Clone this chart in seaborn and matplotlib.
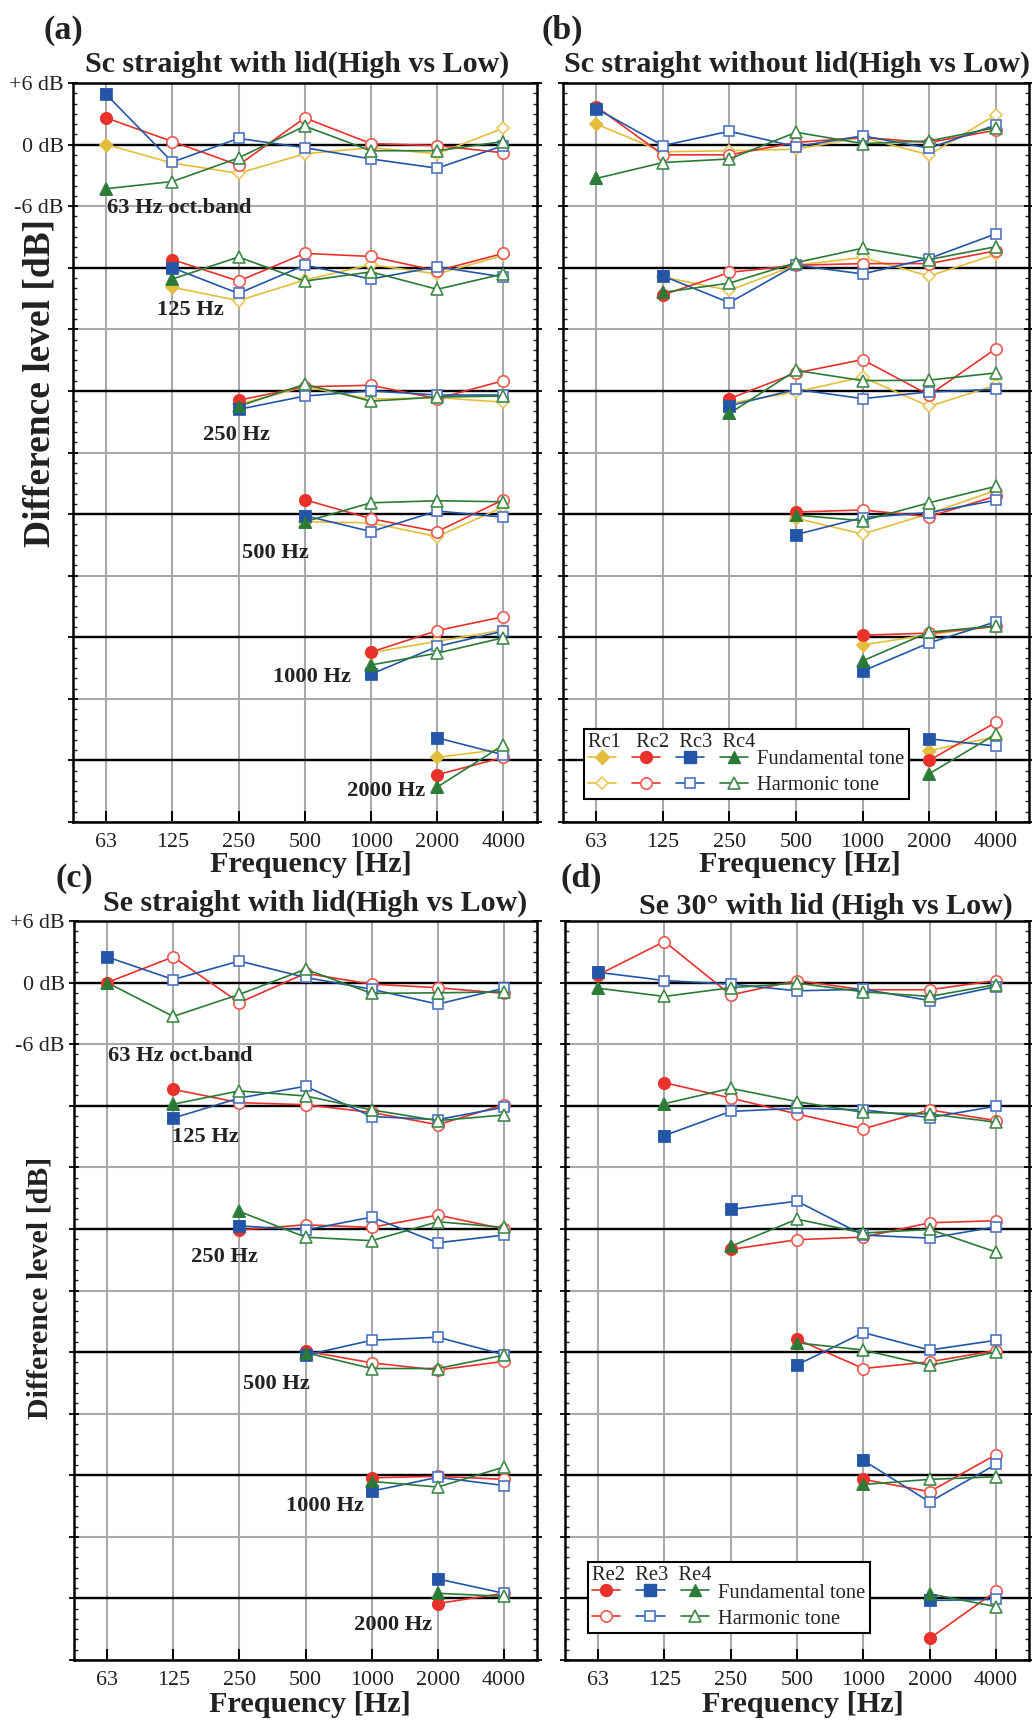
import numpy as np
import pandas as pd
import matplotlib
matplotlib.use("Agg")
import matplotlib.pyplot as plt
import seaborn as sns
from matplotlib.lines import Line2D
from matplotlib.legend_handler import HandlerTuple
from matplotlib.ticker import MultipleLocator

# ---------------------------------------------------------------------------
# Data: level difference (High vs Low) in dB, relative to each band's own
# reference line.  Each series holds one row per excitation octave band,
# running from that band up to 4000 Hz (first value = fundamental tone,
# the following values = harmonic tones).
# ---------------------------------------------------------------------------
freq_labels = ["63", "125", "250", "500", "1000", "2000", "4000"]
band_labels = ["63 Hz oct.band", "125 Hz", "250 Hz", "500 Hz", "1000 Hz", "2000 Hz"]
band_step_db = 12

a_rc1 = [[0.0, -1.8, -2.8, -0.9, -0.3, -0.9, 1.6],
         [-1.9, -3.2, -1.2, 0.3, -0.6, 1.2],
         [-1.3, 0.4, -0.8, -0.65, -1.1],
         [-0.75, -0.85, -2.2, 0.7],
         [-1.5, -0.4, 0.7],
         [0.3, 1.1]]
a_rc2 = [[2.6, 0.3, -2.0, 2.6, 0.1, -0.1, -0.8],
         [0.8, -1.3, 1.4, 1.1, -0.3, 1.4],
         [-0.9, 0.4, 0.55, -0.75, 1.0],
         [1.4, -0.45, -1.7, 1.4],
         [-1.45, 0.65, 2.0],
         [-1.4, 0.3]]
a_rc3 = [[4.9, -1.7, 0.6, -0.3, -1.4, -2.3, -0.1],
         [0.0, -2.5, 0.25, -1.1, 0.1, -0.9],
         [-1.8, -0.5, 0.0, -0.4, -0.4],
         [-0.15, -1.7, 0.3, -0.3],
         [-3.6, -0.9, 0.6],
         [2.2, 0.55]]
a_rc4 = [[-4.3, -3.6, -1.3, 1.8, -0.6, -0.6, 0.3],
         [-1.1, 1.05, -1.3, -0.4, -2.1, -0.6],
         [-1.5, 0.65, -1.0, -0.6, -0.5],
         [-0.75, 1.1, 1.3, 1.2],
         [-2.7, -1.55, -0.05],
         [-2.6, 1.5]]

b_rc1 = [[2.0, -0.7, -0.6, -0.45, 0.7, -1.0, 2.9],
         [-0.9, -2.2, 0.25, 1.0, -0.8, 1.3],
         [-1.2, -0.1, 1.35, -1.5, 0.55],
         [-0.4, -1.95, 0.05, 2.3],
         [-0.75, 0.25, 1.1],
         [0.95, 2.3]]
b_rc2 = [[3.7, -1.0, -1.0, 0.2, 0.7, 0.2, 1.4],
         [-2.65, -0.45, 0.25, 0.4, 0.4, 1.65],
         [-0.75, 1.75, 3.05, -0.4, 4.1],
         [0.2, 0.4, -0.25, 1.75],
         [0.2, 0.4, 1.05],
         [0.0, 3.7]]
b_rc3 = [[3.5, -0.1, 1.3, -0.2, 0.85, -0.35, 1.9],
         [-0.8, -3.4, 0.25, -0.6, 0.9, 3.3],
         [-1.45, 0.15, -0.75, -0.1, 0.15],
         [-2.0, -0.35, 0.15, 1.35],
         [-3.3, -0.55, 1.5],
         [2.1, 1.4]]
b_rc4 = [[-3.3, -1.75, -1.4, 1.2, 0.1, 0.35, 1.65],
         [-2.4, -1.5, 0.5, 1.9, 0.8, 2.05],
         [-2.2, 2.0, 1.0, 1.05, 1.75],
         [-0.1, -0.65, 1.1, 2.7],
         [-2.3, 0.5, 1.1],
         [-1.3, 2.55]]

c_re2 = [[0.0, 2.5, -1.95, 0.9, -0.15, -0.5, -1.05],
         [1.6, 0.3, 0.1, -0.65, -1.85, 0.1],
         [-0.1, 0.4, 0.15, 1.35, 0.0],
         [0.1, -1.05, -1.75, -0.9],
         [-0.25, -0.1, -0.4],
         [-0.5, 0.5]]
c_re3 = [[2.5, 0.3, 2.1, 0.5, -0.65, -2.1, -0.55],
         [-1.2, 0.75, 1.9, -1.05, -1.35, -0.15],
         [0.3, -0.1, 1.15, -1.35, -0.6],
         [-0.3, 1.15, 1.45, -0.25],
         [-1.55, -0.2, -1.0],
         [1.9, 0.5]]
c_re4 = [[0.0, -3.3, -1.15, 1.3, -1.05, -1.0, -0.9],
         [0.15, 1.45, 0.95, -0.4, -1.45, -0.9],
         [1.7, -0.8, -1.15, 0.7, 0.15],
         [-0.05, -1.6, -1.6, -0.3],
         [-0.6, -1.15, 0.8],
         [0.5, 0.2]]

d_re2 = [[0.75, 4.0, -1.2, 0.2, -0.7, -0.7, 0.2],
         [2.25, 0.75, -0.8, -2.25, -0.4, -1.45],
         [-2.0, -1.05, -0.8, 0.6, 0.8],
         [1.25, -1.6, -0.95, 0.15],
         [-0.4, -1.6, 2.0],
         [-3.9, 0.7]]
d_re3 = [[1.0, 0.2, -0.15, -0.8, -0.65, -1.75, -0.4],
         [-2.9, -0.55, -0.25, -0.4, -1.15, -0.05],
         [1.9, 2.7, -0.6, -0.9, 0.2],
         [-1.25, 1.9, 0.2, 1.15],
         [1.45, -2.6, 1.05],
         [-0.2, -0.1]]
d_re4 = [[-0.55, -1.35, -0.5, -0.05, -0.9, -1.35, -0.2],
         [0.2, 1.7, 0.4, -0.65, -0.8, -1.6],
         [-1.7, 0.95, -0.4, -0.05, -2.25],
         [0.9, 0.2, -1.3, 0.0],
         [-0.9, -0.4, -0.15],
         [0.45, -0.8]]

# ---------------------------------------------------------------------------
# Styling
# ---------------------------------------------------------------------------
sns.set_theme(style="white")
plt.rcParams["font.family"] = ["Liberation Serif", "DejaVu Serif"]
plt.rcParams["axes.unicode_minus"] = False

STYLE = {
    1: dict(color="#E3BE3C", edge="#E8C957", marker="D", ms=5.8),
    2: dict(color="#E8322B", edge="#EC5A50", marker="o", ms=7.6),
    3: dict(color="#2356A6", edge="#4F74C4", marker="s", ms=7.2),
    4: dict(color="#2B7A37", edge="#3F8A4A", marker="^", ms=7.8),
}
INK = "#222222"

W, H = 1032, 1720


def box(left, right, top, bottom):
    return [left / W, 1 - bottom / H, (right - left) / W, (bottom - top) / H]


def to_frame(series):
    rows = []
    for rid, bands in series.items():
        for k, vals in enumerate(bands):
            for j, v in enumerate(vals):
                rows.append(dict(rx=rid, band=k, idx=k + j,
                                 level=v - band_step_db * k,
                                 fundamental=(j == 0)))
    return pd.DataFrame(rows)


def draw_panel(ax, series, ylabels):
    df = to_frame(series)
    ax.set_xlim(-0.5, 6.5)
    ax.set_ylim(-66, 6)
    ax.set_axisbelow(True)
    ax.grid(True, which="major", color="#a9a9a9", lw=1.5)
    for k in range(len(band_labels)):
        ax.axhline(-band_step_db * k, color="black", lw=1.7, zorder=1.5)

    for rid in series:
        st = STYLE[rid]
        sub = df[df.rx == rid]
        for k, grp in sub.groupby("band"):
            sns.lineplot(data=grp, x="idx", y="level", ax=ax, color=st["color"],
                         lw=1.2, estimator=None, sort=False, marker=st["marker"],
                         markersize=st["ms"] + 0.6, markerfacecolor="white",
                         markeredgecolor=st["edge"], markeredgewidth=1.2,
                         legend=False, zorder=2)
            first = grp[grp.fundamental]
            sns.scatterplot(data=first, x="idx", y="level", ax=ax,
                            marker=st["marker"], s=(st["ms"] + 1.0) ** 2,
                            color=st["color"], edgecolor=st["color"],
                            linewidth=0.5, legend=False, zorder=3)

    ax.set_xticks(range(len(freq_labels)))
    ax.set_xticklabels(freq_labels)
    ax.yaxis.set_minor_locator(MultipleLocator(1))
    ticks = np.arange(-66, 7, 6)
    ax.set_yticks(ticks)
    if ylabels:
        lab = {6: "+6 dB", 0: "0 dB", -6: "-6 dB"}
        ax.set_yticklabels([lab.get(int(t), "") for t in ticks])
    else:
        ax.set_yticklabels([])
    ax.set_xlabel("")
    ax.set_ylabel("")
    ax.tick_params(axis="y", which="major", direction="inout", length=7,
                   width=1.3, left=True, right=True, labelsize=15.8, pad=3,
                   colors="black")
    ax.tick_params(axis="y", which="minor", direction="in", length=3,
                   width=1.0, left=True, right=True)
    ax.tick_params(axis="x", which="major", direction="in", length=8,
                   width=1.4, bottom=True, top=False, labelsize=15.8, pad=8,
                   colors="black")
    for sp in ax.spines.values():
        sp.set_visible(True)
        sp.set_color("black")
        sp.set_linewidth(1.8)
    for t in ax.get_xticklabels() + ax.get_yticklabels():
        t.set_color(INK)


def band_notes(ax, places):
    for k, (text, (x, dy, ha)) in enumerate(zip(band_labels, places)):
        ax.text(x, -band_step_db * k + dy, text, ha=ha, va="center",
                fontsize=16.2, fontweight="bold", color=INK, zorder=4)


def add_key(ax, rids, names, gaps, anchor, hlen):
    fund, harm = [], []
    for rid in rids:
        st = STYLE[rid]
        fund.append(Line2D([], [], color=st["color"], lw=1.2, marker=st["marker"],
                           ms=st["ms"] + 1.0, mfc=st["color"], mec=st["color"]))
        harm.append(Line2D([], [], color=st["color"], lw=1.2, marker=st["marker"],
                           ms=st["ms"] + 0.6, mfc="white", mec=st["edge"], mew=1.2))
    header = names[0]
    for g, n in zip(gaps, names[1:]):
        header += " " * g + n
    leg = ax.legend([tuple(fund), tuple(harm)], ["Fundamental tone", "Harmonic tone"],
                    handler_map={tuple: HandlerTuple(ndivide=None, pad=0.78)},
                    loc="lower left", bbox_to_anchor=anchor, borderaxespad=0,
                    frameon=True, fancybox=False, framealpha=1, edgecolor="black",
                    fontsize=14.8, title=header, title_fontsize=14.8,
                    alignment="left", handlelength=hlen,
                    handletextpad=0.45, labelspacing=0.32, borderpad=0.2,
                    handleheight=0.7)
    # pull the header row closer to the marker rows
    leg._legend_box.sep = -1.5
    leg.get_frame().set_linewidth(1.5)
    leg.set_zorder(5)
    for t in leg.get_texts():
        t.set_color(INK)
    leg.get_title().set_color(INK)


fig = plt.figure(figsize=(W / 100, H / 100), dpi=100)

ax_a = fig.add_axes(box(73, 536.5, 83, 822))
ax_b = fig.add_axes(box(563, 1029, 83, 822))
ax_c = fig.add_axes(box(74, 537, 921, 1660))
ax_d = fig.add_axes(box(565, 1029, 921, 1660))

draw_panel(ax_a, {1: a_rc1, 2: a_rc2, 3: a_rc3, 4: a_rc4}, True)
draw_panel(ax_b, {1: b_rc1, 2: b_rc2, 3: b_rc3, 4: b_rc4}, False)
draw_panel(ax_c, {2: c_re2, 3: c_re3, 4: c_re4}, True)
draw_panel(ax_d, {2: d_re2, 3: d_re3, 4: d_re4}, False)

band_notes(ax_a, [(0.02, -6.15, "left"), (1.27, -4.1, "center"), (1.97, -4.3, "center"),
                  (2.56, -3.8, "center"), (3.11, -3.9, "center"), (4.23, -3.0, "center")])
band_notes(ax_c, [(0.02, -7.2, "left"), (1.48, -3.0, "center"), (1.78, -2.7, "center"),
                  (2.56, -3.1, "center"), (3.29, -3.0, "center"), (4.32, -2.6, "center")])

add_key(ax_b, [1, 2, 3, 4], ["Rc1", "Rc2", "Rc3", "Rc4"], [3, 2, 2], (0.044, 0.031), 7.8)
add_key(ax_d, [2, 3, 4], ["Re2", "Re3", "Re4"], [2, 2], (0.049, 0.037), 5.7)

titles = [("Sc straight with lid(High vs Low)", 297.5, 64),
          ("Sc straight without lid(High vs Low)", 797, 64),
          ("Se straight with lid(High vs Low)", 315, 903),
          ("Se 30\u00b0 with lid (High vs Low)", 826, 906)]
for text, x, y in titles:
    fig.text(x / W, 1 - y / H, text, ha="center", va="center", fontsize=21.6,
             fontweight="bold", color=INK)

for text, x, y in [("(a)", 63, 30), ("(b)", 562, 30), ("(c)", 74, 878), ("(d)", 581, 878)]:
    fig.text(x / W, 1 - y / H, text, ha="center", va="center", fontsize=24.5,
             fontweight="bold", color=INK)

for x, y in [(311, 864), (800, 864), (310, 1705), (803, 1705)]:
    fig.text(x / W, 1 - y / H, "Frequency [Hz]", ha="center", va="center",
             fontsize=21.8, fontweight="bold", color=INK)

fig.text(40.5 / W, 1 - 383 / H, "Difference level [dB]", rotation=90, ha="center",
         va="center", fontsize=27, fontweight="bold", color=INK)
fig.text(40.5 / W, 1 - 1288 / H, "Difference level [dB]", rotation=90, ha="center",
         va="center", fontsize=21.5, fontweight="bold", color=INK)

fig.savefig("out.png", dpi=100)
